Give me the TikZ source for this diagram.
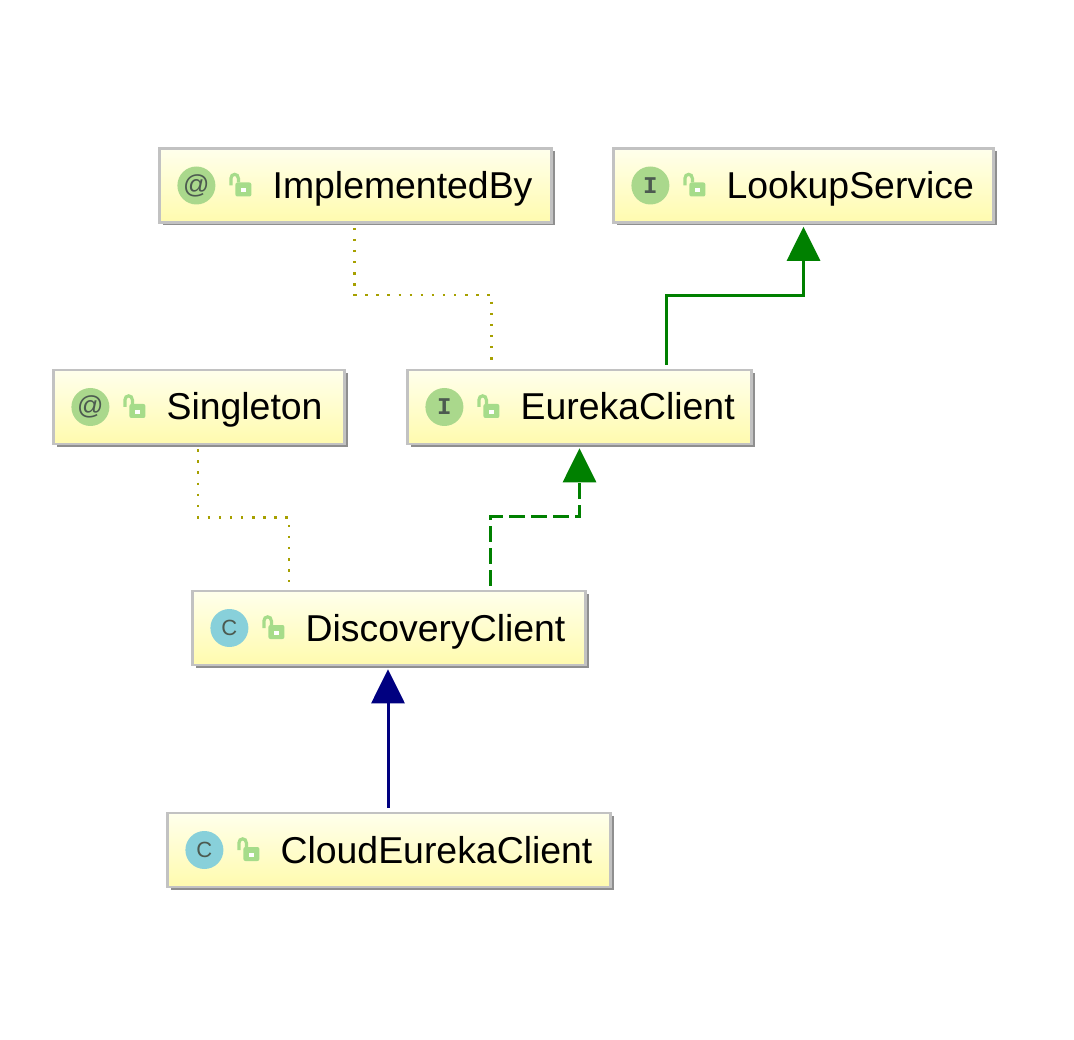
\documentclass[tikz,border=0pt]{standalone}
\usepackage{fontspec}
\setmainfont{Liberation Sans}
\newfontfamily\iconfont{Liberation Mono}
\usetikzlibrary{arrows.meta, calc, positioning, shadows}
\definecolor{boxtop}{HTML}{FFFFEC}
\definecolor{boxbottom}{HTML}{FFFBAE}
\definecolor{boxline}{HTML}{C2C2C2}
\definecolor{boxshadow}{HTML}{8F8F8F}
\definecolor{annogreen}{HTML}{AAD88C}
\definecolor{classblue}{HTML}{88D0DA}
\definecolor{iconink}{HTML}{4C5A50}
\definecolor{lockgreen}{HTML}{A6DC8A}
\definecolor{dotolive}{HTML}{A6A000}
\definecolor{realizegreen}{HTML}{008000}
\definecolor{extendblue}{HTML}{000080}
\tikzset{
  umlbox/.style={draw=boxline, line width=2.6pt, top color=boxtop, bottom color=boxbottom, minimum height=74pt, inner sep=0pt,
    drop shadow={shadow xshift=3pt, shadow yshift=-3pt, fill=boxshadow, opacity=1}},
  icon/.style={circle, minimum size=38pt, inner sep=0pt, text=iconink},
  anno/.style={icon, fill=annogreen, font=\fontsize{26}{26}\selectfont},
  iface/.style={icon, fill=annogreen, font=\iconfont\bfseries\fontsize{24}{24}\selectfont},
  klass/.style={icon, fill=classblue, font=\fontsize{22}{22}\selectfont},
  boxtext/.style={anchor=base west, inner sep=0pt, font=\fontsize{37.4}{40}\selectfont},
  dep/.style={dotolive, line width=2.4pt, dash pattern=on 2.4pt off 8.7pt},
  impl/.style={-{Triangle[width=33pt,length=34pt]}, realizegreen, line width=3pt, shorten <=4pt, shorten >=3pt},
  implDashed/.style={impl, dash pattern=on 16pt off 6pt},
  ext/.style={-{Triangle[width=33pt,length=34pt]}, extendblue, line width=3pt, shorten <=4pt, shorten >=3pt},
  lockicon/.pic={
    \draw[lockgreen, line width=3.2pt] (-9.5,0) -- (-9.5,-7) .. controls (-9.5,-12.5) and (-2,-12.5) .. (-2,-7) -- (-2,-3);
    \fill[lockgreen, rounded corners=2pt] (-5,-3) rectangle (11,11);
    \fill[white] (1,3) rectangle (6,7);
  }
}
\begin{document}
\begin{tikzpicture}[x=1pt, y=-1pt]
    \useasboundingbox (0,0) rectangle (1074,1040);

    % boxes
    \node[umlbox, minimum width=392pt] (implementedBy) at (355.5,185.5) {};
    \node[umlbox, minimum width=380pt] (lookupService) at (803.5,185.5) {};
    \node[umlbox, minimum width=291pt] (singleton) at (199,407) {};
    \node[umlbox, minimum width=344pt] (eurekaClient) at (579.5,407) {};
    \node[umlbox, minimum width=393pt] (discoveryClient) at (389,628) {};
    \node[umlbox, minimum width=443pt] (cloudEurekaClient) at (389,850) {};

    % icons
    \node[anno, right=19pt of implementedBy.west] (implementedByIcon) {@};
    \node[iface, right=19pt of lookupService.west] (lookupServiceIcon) {I};
    \node[anno, right=19pt of singleton.west] (singletonIcon) {@};
    \node[iface, right=19pt of eurekaClient.west] (eurekaClientIcon) {I};
    \node[klass, right=19pt of discoveryClient.west] (discoveryClientIcon) {C};
    \node[klass, right=19pt of cloudEurekaClient.west] (cloudEurekaClientIcon) {C};

    % locks
    \foreach \name in {implementedBy, lookupService, singleton, eurekaClient, discoveryClient, cloudEurekaClient}
        \pic at ($(\name Icon.center)+(44,0)$) {lockicon};

    % names
    \node[boxtext] (implementedByText) at ($(implementedByIcon.center)+(76,13)$) {ImplementedBy};
    \node[boxtext] (lookupServiceText) at ($(lookupServiceIcon.center)+(76,13)$) {LookupService};
    \node[boxtext] (singletonText) at ($(singletonIcon.center)+(76,13)$) {Singleton};
    \node[boxtext] (eurekaClientText) at ($(eurekaClientIcon.center)+(76,13)$) {EurekaClient};
    \node[boxtext] (discoveryClientText) at ($(discoveryClientIcon.center)+(76,13)$) {DiscoveryClient};
    \node[boxtext] (cloudEurekaClientText) at ($(cloudEurekaClientIcon.center)+(76,13)$) {CloudEurekaClient};

    % connectors
    \draw[dep] ([xshift=-1pt,yshift=-4pt]implementedBy.south) -- ++(0,67) -| ([xshift=-88pt,yshift=8pt]eurekaClient.north);
    \draw[dep] ([xshift=-1pt,yshift=-4pt]singleton.south) -- ++(0,68) -| ([xshift=-100pt,yshift=8pt]discoveryClient.north);
    \draw[impl] ([xshift=87pt]eurekaClient.north) -- ++(0,-73) -| (lookupService.south);
    \draw[implDashed] ([xshift=101pt]discoveryClient.north) -- ++(0,-73) -| (eurekaClient.south);
    \draw[ext] ([xshift=-1pt]cloudEurekaClient.north) -- ([xshift=-1pt]discoveryClient.south);
\end{tikzpicture}
\end{document}
